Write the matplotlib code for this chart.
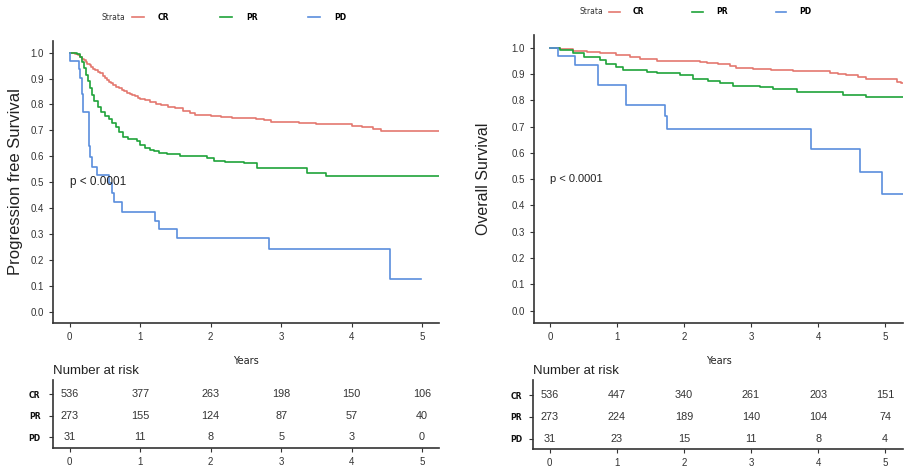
import matplotlib
matplotlib.use("Agg")
import matplotlib.pyplot as plt

# ---------------- data ----------------
groups = ["CR", "PR", "PD"]
colors = {"CR": "#E4786F", "PR": "#1FA33A", "PD": "#5A8EDD"}

pfs_cr_t = [0, 0.08, 0.12, 0.15, 0.18, 0.2, 0.23, 0.25, 0.28, 0.3, 0.33, 0.36, 0.4, 0.43, 0.47, 0.5, 0.53, 0.56,
            0.59, 0.62, 0.66, 0.7, 0.74, 0.77, 0.81, 0.85, 0.89, 0.93, 0.97, 1.0, 1.07, 1.14, 1.22, 1.3, 1.4, 1.5,
            1.6, 1.7, 1.78, 2.0, 2.15, 2.3, 2.5, 2.65, 2.75, 2.85, 3.0, 3.25, 3.5, 3.8, 4.0, 4.15, 4.3, 4.42, 5.24]
pfs_cr_s = [1.0, 0.995, 0.99, 0.985, 0.977, 0.97, 0.963, 0.957, 0.951, 0.945, 0.938, 0.932, 0.926, 0.92, 0.911,
            0.903, 0.895, 0.888, 0.881, 0.874, 0.868, 0.863, 0.857, 0.852, 0.846, 0.841, 0.836, 0.831, 0.826,
            0.822, 0.816, 0.81, 0.803, 0.797, 0.791, 0.785, 0.776, 0.766, 0.758, 0.756, 0.752, 0.749, 0.747, 0.744,
            0.74, 0.734, 0.733, 0.728, 0.726, 0.723, 0.718, 0.714, 0.707, 0.699, 0.696]

pfs_pr_t = [0, 0.1, 0.14, 0.17, 0.2, 0.23, 0.26, 0.29, 0.32, 0.35, 0.4, 0.45, 0.5, 0.55, 0.6, 0.65, 0.7, 0.75,
            0.82, 0.95, 1.0, 1.07, 1.14, 1.2, 1.26, 1.38, 1.57, 1.75, 1.95, 2.04, 2.2, 2.47, 2.66, 3.0, 3.37, 3.63,
            5.24]
pfs_pr_s = [1.0, 0.995, 0.985, 0.965, 0.94, 0.915, 0.89, 0.862, 0.835, 0.812, 0.79, 0.772, 0.757, 0.742, 0.727,
            0.712, 0.695, 0.676, 0.665, 0.658, 0.643, 0.633, 0.626, 0.62, 0.614, 0.609, 0.602, 0.599, 0.595, 0.583,
            0.577, 0.572, 0.556, 0.553, 0.537, 0.524, 0.524]

pfs_pd_t = [0, 0.005, 0.13, 0.15, 0.17, 0.18, 0.19, 0.27, 0.28, 0.31, 0.38, 0.55, 0.6, 0.63, 0.74, 1.21, 1.26,
            1.52, 2.83, 4.55, 4.99]
pfs_pd_s = [1.0, 0.968, 0.935, 0.903, 0.871, 0.839, 0.77, 0.64, 0.598, 0.56, 0.528, 0.495, 0.457, 0.425, 0.386,
            0.351, 0.319, 0.283, 0.242, 0.125, 0.125]

os_cr_t = [0, 0.15, 0.35, 0.55, 0.75, 0.99, 1.19, 1.34, 1.59, 2.24, 2.34, 2.5, 2.68, 2.78, 3.03, 3.3, 3.63, 4.17,
           4.3, 4.42, 4.6, 4.72, 5.17, 5.24, 5.27]
os_cr_s = [1.0, 0.995, 0.989, 0.985, 0.978, 0.972, 0.966, 0.956, 0.951, 0.947, 0.94, 0.936, 0.93, 0.921, 0.918,
           0.916, 0.913, 0.905, 0.9, 0.896, 0.887, 0.88, 0.871, 0.864, 0.864]

os_pr_t = [0, 0.15, 0.35, 0.5, 0.75, 0.84, 0.99, 1.09, 1.44, 1.59, 1.94, 2.14, 2.35, 2.53, 2.73, 3.13, 3.33, 3.68,
           4.37, 4.72, 5.27]
os_pr_s = [1.0, 0.99, 0.978, 0.963, 0.953, 0.937, 0.928, 0.915, 0.909, 0.902, 0.894, 0.88, 0.872, 0.864, 0.854,
           0.849, 0.842, 0.833, 0.82, 0.814, 0.814]

os_pd_t = [0, 0.12, 0.37, 0.71, 1.13, 1.71, 1.74, 3.9, 4.62, 4.95, 5.27]
os_pd_s = [1.0, 0.968, 0.934, 0.858, 0.782, 0.74, 0.692, 0.616, 0.528, 0.442, 0.442]

risk_years = [0, 1, 2, 3, 4, 5]
pfs_risk_cr = [536, 377, 263, 198, 150, 106]
pfs_risk_pr = [273, 155, 124, 87, 57, 40]
pfs_risk_pd = [31, 11, 8, 5, 3, 0]
os_risk_cr = [536, 447, 340, 261, 203, 151]
os_risk_pr = [273, 224, 189, 140, 104, 74]
os_risk_pd = [31, 23, 15, 11, 8, 4]

yticks = [i / 10 for i in range(11)]
p_text = "p < 0.0001"

# ---------------- figure ----------------
W, H = 915, 472
fig = plt.figure(figsize=(W / 100, H / 100), dpi=100)
fig.patch.set_facecolor("white")

SANS = ["Liberation Sans", "DejaVu Sans"]
DARK = "#333333"


def px_rect(x0, y0, x1, y1):
    return [x0 / W, 1 - y1 / H, (x1 - x0) / W, (y1 - y0) / H]


def style(ax):
    for s in ("top", "right"):
        ax.spines[s].set_visible(False)
    for s in ("left", "bottom"):
        ax.spines[s].set_color(DARK)
        ax.spines[s].set_linewidth(1.2)
    ax.tick_params(length=3, width=0.8, color=DARK, labelcolor=DARK, labelsize=7)
    for lab in ax.get_xticklabels() + ax.get_yticklabels():
        lab.set_family(SANS)


def km_panel(rect, xlim, ylim, curves, ylabel, ylab_x, ylab_size, p_size):
    ax = fig.add_axes(rect)
    lines = []
    for g, (t, s) in zip(groups, curves):
        ln, = ax.step(t, s, where="post", color=colors[g], lw=1.2)
        lines.append(ln)
    ax.set_xlim(*xlim)
    ax.set_ylim(*ylim)
    ax.set_xticks(risk_years)
    ax.set_yticks(yticks)
    ax.set_yticklabels([f"{v:.1f}" for v in yticks])
    style(ax)
    ax.set_xlabel("Years", fontsize=7, family="DejaVu Sans", color="#222222", labelpad=10)
    ax.set_ylabel(ylabel, fontsize=ylab_size, family=SANS, color="#222222")
    ax.yaxis.set_label_coords(ylab_x, 0.5)
    ax.text(0, 0.5, p_text, fontsize=p_size, family=SANS, color="#222222", ha="left", va="center")
    return ax, lines


def risk_panel(rect, xlim, ylim, rows, label_pad):
    ax = fig.add_axes(rect)
    ypos = [3, 2, 1]
    for y, vals in zip(ypos, rows):
        for x, v in zip(risk_years, vals):
            ax.text(x, y, str(v), ha="center", va="center", fontsize=7.8, family=SANS, color=DARK)
    ax.set_xlim(*xlim)
    ax.set_ylim(*ylim)
    ax.set_xticks(risk_years)
    ax.set_yticks(ypos)
    ax.set_yticklabels(groups)
    style(ax)
    ax.tick_params(axis="y", pad=label_pad)
    for lab in ax.get_yticklabels():
        lab.set_fontweight("bold")
        lab.set_fontsize(5.5)
        lab.set_color("#111111")
        lab.set_family("DejaVu Sans")
    ax.set_title("Number at risk", loc="left", fontsize=9.5, family=SANS, color="#222222", pad=4)
    return ax


def legend(lines, x_handle, y, strata_x, hl, htp, cs):
    fig.text(strata_x / W, 1 - y / H, "Strata", fontsize=5.5, family="DejaVu Sans", color=DARK,
             ha="left", va="center")
    leg = fig.legend(lines, groups, loc="center left", bbox_to_anchor=(x_handle / W, 1 - y / H),
                     ncol=3, frameon=False, borderpad=0, borderaxespad=0, handlelength=hl,
                     handletextpad=htp, columnspacing=cs,
                     prop={"family": "DejaVu Sans", "weight": "bold", "size": 5.5})
    for h in leg.legend_handles:
        h.set_linewidth(1.2)
    return leg


# Left: PFS
xl_left = (-0.238, 5.24)
ax1, lines1 = km_panel(px_rect(53, 41, 439, 323), xl_left, (-0.044, 1.045),
                       [(pfs_cr_t, pfs_cr_s), (pfs_pr_t, pfs_pr_s), (pfs_pd_t, pfs_pd_s)],
                       "Progression free Survival", -0.078, 12, 8.5)
risk_panel(px_rect(53, 380, 439, 447.7), xl_left, (0.52, 3.65),
           [pfs_risk_cr, pfs_risk_pr, pfs_risk_pd], 6)
legend(lines1, 132, 17, 101, 1.6, 1.8, 6.6)

# Right: OS
xl_right = (-0.243, 5.27)
ax2, lines2 = km_panel(px_rect(533.7, 35, 903.3, 322.7), xl_right, (-0.046, 1.048),
                       [(os_cr_t, os_cr_s), (os_pr_t, os_pr_s), (os_pd_t, os_pd_s)],
                       "Overall Survival", -0.115, 11.5, 8)
risk_panel(px_rect(533.3, 380, 903.3, 449), xl_right, (0.53, 3.69),
           [os_risk_cr, os_risk_pr, os_risk_pd], 5)
legend(lines2, 609, 12, 579, 1.4, 1.7, 6.3)

fig.savefig("out.png", dpi=100, facecolor="white")
